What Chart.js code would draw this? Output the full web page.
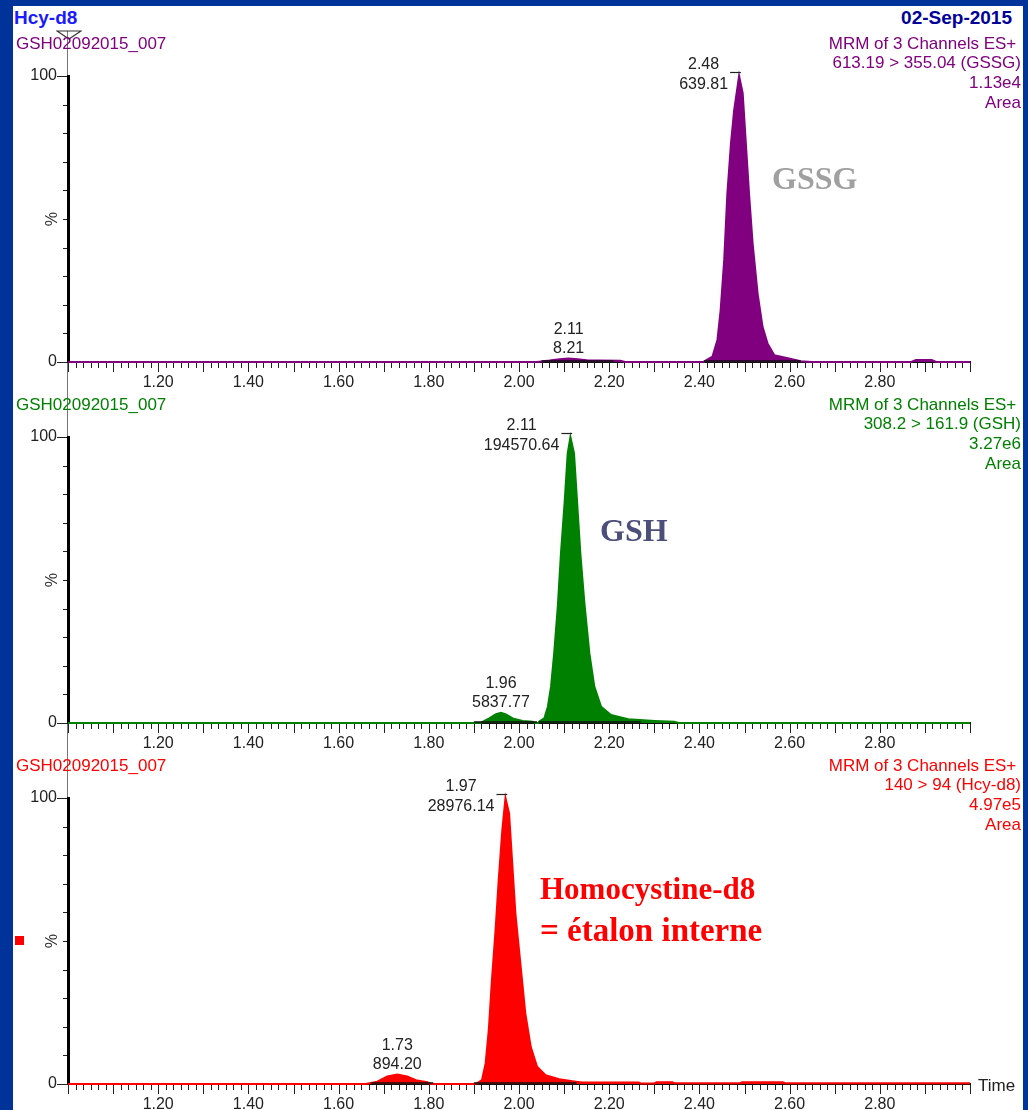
<!DOCTYPE html>
<html><head><meta charset="utf-8">
<script src="https://cdn.jsdelivr.net/npm/chart.js@4.4.0/dist/chart.umd.min.js"></script>
<style>
html,body{margin:0;padding:0;width:1028px;height:1110px;overflow:hidden;background:#003399;position:relative;}
#page{position:absolute;left:13px;top:6px;width:1010px;height:1104px;background:#fff;}
.t{position:absolute;font-family:"Liberation Sans",Arial,sans-serif;white-space:nowrap;line-height:1;}
.r{text-align:right;right:7px;}
.big{position:absolute;font-family:"Liberation Serif","Times New Roman",serif;font-weight:bold;font-size:32px;white-space:nowrap;line-height:1;}
.cv{position:absolute;left:13px;width:1003px;height:361px;}
#vline{position:absolute;left:67px;top:31px;width:1px;height:1053px;background:#777;}
</style>
</head><body>
<div id="page"></div>
<div id="vline"></div>
<svg style="position:absolute;left:56px;top:29px" width="26" height="12"><polygon points="1,2 25,2 13,10" fill="none" stroke="#333" stroke-width="1.2"/></svg>
<div class="cv" style="top:30px"><canvas id="c0" width="1003" height="361"></canvas></div>
<div class="cv" style="top:391px"><canvas id="c1" width="1003" height="361"></canvas></div>
<div class="cv" style="top:752px"><canvas id="c2" width="1003" height="361"></canvas></div>

<div class="t" style="left:14px;top:8px;font-size:19px;font-weight:bold;color:#1a1aff">Hcy-d8</div>
<div class="t r" style="right:16px;top:8px;font-size:19px;font-weight:bold;color:#00009a">02-Sep-2015</div>

<div class="t" style="left:16px;top:35px;font-size:17px;color:#800080">GSH02092015_007</div>
<div class="t r" style="top:35px;font-size:17px;color:#800080">MRM of 3 Channels ES+&nbsp;</div>
<div class="t r" style="top:54px;font-size:17px;color:#800080">613.19 &gt; 355.04 (GSSG)</div>
<div class="t r" style="top:74px;font-size:17px;color:#800080">1.13e4</div>
<div class="t r" style="top:94px;font-size:17px;color:#800080">Area</div>

<div class="t" style="left:16px;top:396px;font-size:17px;color:#008000">GSH02092015_007</div>
<div class="t r" style="top:396px;font-size:17px;color:#008000">MRM of 3 Channels ES+&nbsp;</div>
<div class="t r" style="top:415px;font-size:17px;color:#008000">308.2 &gt; 161.9 (GSH)</div>
<div class="t r" style="top:435px;font-size:17px;color:#008000">3.27e6</div>
<div class="t r" style="top:455px;font-size:17px;color:#008000">Area</div>

<div class="t" style="left:16px;top:757px;font-size:17px;color:#ff0000">GSH02092015_007</div>
<div class="t r" style="top:757px;font-size:17px;color:#ff0000">MRM of 3 Channels ES+&nbsp;</div>
<div class="t r" style="top:776px;font-size:17px;color:#ff0000">140 &gt; 94 (Hcy-d8)</div>
<div class="t r" style="top:796px;font-size:17px;color:#ff0000">4.97e5</div>
<div class="t r" style="top:816px;font-size:17px;color:#ff0000">Area</div>

<div class="t" style="left:43px;top:211px;font-size:16px;color:#333;transform:rotate(90deg)">%</div>
<div class="t" style="left:43px;top:572px;font-size:16px;color:#333;transform:rotate(90deg)">%</div>
<div class="t" style="left:43px;top:933px;font-size:16px;color:#333;transform:rotate(90deg)">%</div>
<div style="position:absolute;left:15px;top:936px;width:9px;height:9px;background:#ff0000"></div>
<div class="t" style="left:978px;top:1077px;font-size:17px;color:#222">Time</div>

<div class="big" style="left:772px;top:162px;color:#a0a0a0">GSSG</div>
<div class="big" style="left:600px;top:514px;color:#4b4f7a">GSH</div>
<div class="big" style="left:540px;top:873px;color:#ff0000;font-size:31px">Homocystine-d8</div>
<div class="big" style="left:540px;top:914px;color:#ff0000;font-size:33px">= étalon interne</div>

<script>
// ---------------- data (time in min, intensity in %) ----------------
const xTickLabels = ['1.20','1.40','1.60','1.80','2.00','2.20','2.40','2.60','2.80'];
const yTickLabels = {0:'0', 100:'100'};

const gssgTime = [1.000,2.040,2.068,2.090,2.110,2.130,2.154,2.175,2.225,2.235,2.403,2.410,2.429,2.440,2.447,2.455,2.462,2.470,2.477,2.488,2.496,2.503,2.510,2.518,2.529,2.540,2.551,2.566,2.596,2.625,2.648,2.870,2.880,2.915,2.925,3.000];
const gssgPct  = [0.0,0.0,0.5,1.0,1.2,1.0,0.5,0.5,0.4,0.0,0.0,0.1,1.9,7.7,18.0,35.7,59.0,76.5,88.0,100,94.0,76.5,59.0,41.5,24.0,12.3,6.5,2.4,1.3,0.3,0.0,0.0,0.7,0.7,0.0,0.0];

const gshTime = [1.000,1.900,1.916,1.934,1.949,1.960,1.971,1.986,2.008,2.030,2.036,2.043,2.045,2.056,2.064,2.071,2.078,2.086,2.093,2.101,2.108,2.114,2.122,2.129,2.136,2.145,2.156,2.167,2.182,2.204,2.242,2.301,2.344,2.354,3.000];
const gshPct  = [0.0,0.0,0.1,1.6,3.1,3.6,3.0,1.6,0.7,0.4,0.0,0.0,0.5,1.6,5.7,12.7,24.4,40.7,59.3,76.8,94.3,100,94.3,76.8,59.3,41.9,24.4,12.7,5.7,2.8,1.3,0.7,0.4,0.0,0.0];

const hcyTime = [1.000,1.660,1.663,1.686,1.708,1.730,1.752,1.774,1.797,1.803,1.810,1.900,1.907,1.918,1.926,1.933,1.940,1.948,1.955,1.963,1.970,1.978,1.985,1.992,2.003,2.014,2.026,2.040,2.059,2.089,2.126,2.140,2.265,2.270,2.300,2.305,2.340,2.345,2.490,2.495,2.585,2.590,3.000];
const hcyPct  = [0.0,0.0,0.1,0.8,2.6,3.3,2.6,1.2,0.6,0.1,0.0,0.0,0.2,1.4,7.2,18.9,36.4,53.8,71.3,88.8,100,94.6,77.2,59.7,42.2,24.7,13.0,6.0,3.1,1.7,0.8,0.5,0.5,0.2,0.2,0.6,0.6,0.3,0.3,0.6,0.6,0.3,0.3];

// integration baselines [start, end] in min
const gssgBase = [[2.050,2.210],[2.410,2.625]];
const gshBase  = [[1.900,2.040],[2.044,2.270]];
const hcyBase  = [[1.672,1.810],[1.900,2.128]];

// peak annotations: retention time, apex time, height %, area, apex-marked
const gssgPeaks = [{rt:'2.48', t:2.488, h:100, area:'639.81', top:true},{rt:'2.11', t:2.110, h:1.2, area:'8.21', top:false}];
const gshPeaks  = [{rt:'2.11', t:2.114, h:100, area:'194570.64', top:true},{rt:'1.96', t:1.960, h:3.6, area:'5837.77', top:false}];
const hcyPeaks  = [{rt:'1.97', t:1.970, h:100, area:'28976.14', top:true},{rt:'1.73', t:1.730, h:3.3, area:'894.20', top:false}];

// ---------------- chart building ----------------
const LABEL_FONT = '16px "Liberation Sans", Arial, sans-serif';

const tickPlugin = {
  id: 'msTicks',
  afterDraw(chart) {
    const ctx = chart.ctx, xs = chart.scales.x, ys = chart.scales.y;
    ctx.save();
    ctx.strokeStyle = '#222';
    ctx.lineWidth = 1;
    ctx.beginPath();
    xs.ticks.forEach((t, i) => {
      const px = Math.round(xs.getPixelForValue(t.value)) + 0.5;
      const len = (i % 6 === 0) ? 9 : 5;
      ctx.moveTo(px, xs.top + 1); ctx.lineTo(px, xs.top + 1 + len);
    });
    ys.ticks.forEach(t => {
      const py = Math.round(ys.getPixelForValue(t.value)) + 0.5;
      const len = (t.value === 0 || t.value === 100) ? 10 : 4;
      ctx.moveTo(ys.right - 1, py); ctx.lineTo(ys.right - 1 - len, py);
    });
    ctx.stroke();
    ctx.restore();
  }
};

const peakPlugin = {
  id: 'peakLabels',
  afterDatasetsDraw(chart, args, opts) {
    const ctx = chart.ctx, xs = chart.scales.x, ys = chart.scales.y;
    ctx.save();
    ctx.font = LABEL_FONT;
    ctx.fillStyle = '#222';
    ctx.textAlign = 'center';
    ctx.textBaseline = 'middle';
    (opts.items || []).forEach(p => {
      const ay = ys.getPixelForValue(p.h);
      if (p.top) {
        const dashL = xs.getPixelForValue(p.t - 0.02);
        ctx.strokeStyle = '#222'; ctx.lineWidth = 1.2;
        ctx.beginPath(); ctx.moveTo(dashL, ay - 3.5); ctx.lineTo(xs.getPixelForValue(p.t + 0.004), ay - 3.5); ctx.stroke();
        const w = Math.max(ctx.measureText(p.rt).width, ctx.measureText(p.area).width);
        const cx = dashL - 2 - w / 2;
        ctx.fillText(p.rt, cx, ay - 11);
        ctx.fillText(p.area, cx, ay + 9);
      } else {
        const cx = xs.getPixelForValue(p.t);
        ctx.fillText(p.rt, cx, ay - 29);
        ctx.fillText(p.area, cx, ay - 10);
      }
    });
    ctx.restore();
  }
};

function makeChart(id, times, pcts, bases, peaks, color) {
  const trace = times.map((t, i) => ({x: t, y: pcts[i]}));
  const baseData = [];
  bases.forEach(b => { baseData.push({x: b[0], y: 0.35}, {x: b[1], y: 0.35}, {x: b[1], y: null}); });
  const minorTicks = [];
  for (let i = 60; i <= 180; i++) minorTicks.push(i / 60);
  return new Chart(document.getElementById(id), {
    type: 'line',
    data: {
      datasets: [
        {data: trace, borderColor: color, backgroundColor: color, fill: 'origin', borderWidth: 2,
         pointRadius: 0, tension: 0, clip: false, order: 2},
        {data: baseData, borderColor: '#111', borderWidth: 1.5, pointRadius: 0, fill: false,
         spanGaps: false, clip: false, order: 1}
      ]
    },
    options: {
      responsive: false, animation: false, devicePixelRatio: 1,
      layout: {padding: {left: 0, right: 46, top: 46, bottom: 0}},
      plugins: {legend: {display: false}, tooltip: {enabled: false}, peakLabels: {items: peaks}},
      scales: {
        x: {
          type: 'linear', min: 1, max: 3,
          afterBuildTicks: s => { s.ticks = minorTicks.map(v => ({value: v})); },
          afterFit: s => { s.height = 29; },
          grid: {display: false, drawTicks: false},
          border: {display: true, color: '#111', width: 2},
          ticks: {
            autoSkip: false, maxRotation: 0, padding: 11, color: '#222',
            font: {family: '"Liberation Sans", Arial, sans-serif', size: 16},
            callback: v => {
              const s = v.toFixed(2);
              return xTickLabels.includes(s) && Math.abs(v * 5 - Math.round(v * 5)) < 1e-6 ? s : '';
            }
          }
        },
        y: {
          min: 0, max: 100,
          ticks: {stepSize: 10, padding: 11, color: '#222', autoSkip: false,
            font: {family: '"Liberation Sans", Arial, sans-serif', size: 16},
            callback: v => yTickLabels[v] !== undefined ? yTickLabels[v] : ''},
          afterFit: s => { s.width = 55; },
          grid: {display: false, drawTicks: false},
          border: {display: true, color: '#000', width: 3}
        }
      }
    },
    plugins: [tickPlugin, peakPlugin]
  });
}

makeChart('c0', gssgTime, gssgPct, gssgBase, gssgPeaks, '#800080');
makeChart('c1', gshTime, gshPct, gshBase, gshPeaks, '#008000');
makeChart('c2', hcyTime, hcyPct, hcyBase, hcyPeaks, '#ff0000');
</script>
</body></html>
